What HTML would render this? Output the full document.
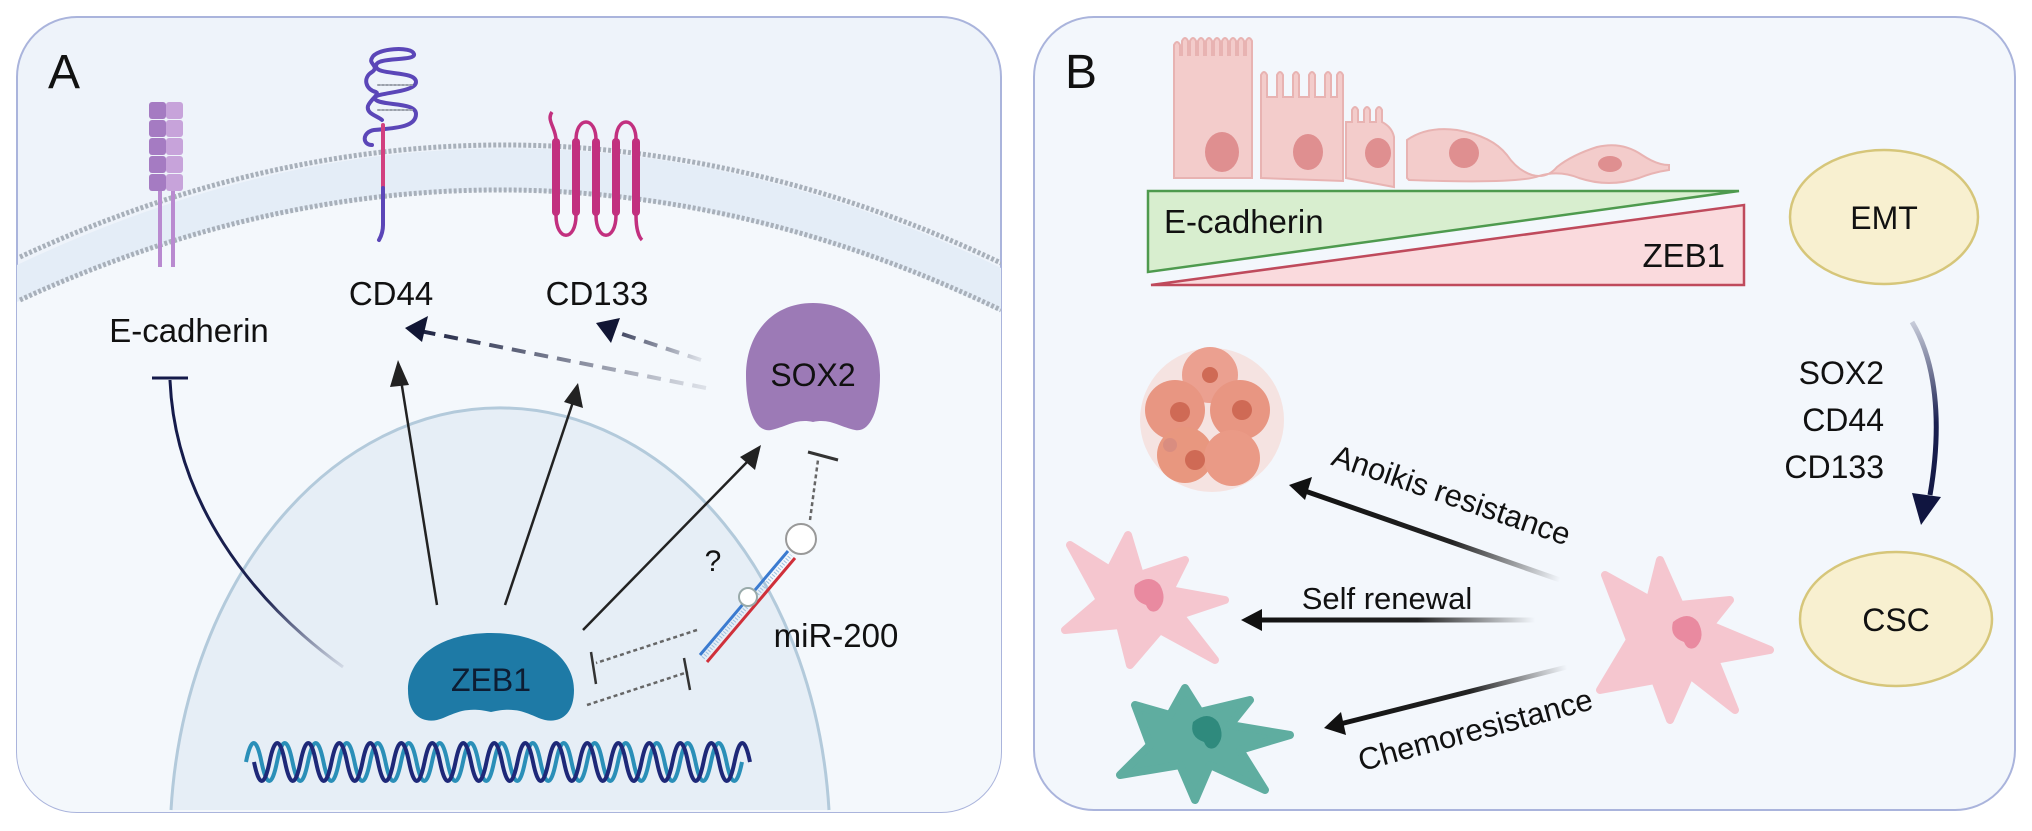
<!DOCTYPE html>
<html><head><meta charset="utf-8"><style>
html,body{margin:0;padding:0;background:#fff;width:2032px;height:831px;overflow:hidden;}
svg{display:block;}
text{font-family:"Liberation Sans",Arial,sans-serif;fill:#111;}
</style></head><body>
<svg width="2032" height="831" viewBox="0 0 2032 831" xmlns="http://www.w3.org/2000/svg">
<defs>
<linearGradient id="gInh" gradientUnits="userSpaceOnUse" x1="170" y1="380" x2="343" y2="667"><stop offset="0" stop-color="#141a4a"/><stop offset="0.7" stop-color="#1c2250"/><stop offset="1" stop-color="#1c2250" stop-opacity="0.1"/></linearGradient>
<linearGradient id="gD1" gradientUnits="userSpaceOnUse" x1="408" y1="328" x2="706" y2="388"><stop offset="0" stop-color="#141a3a"/><stop offset="1" stop-color="#141a3a" stop-opacity="0.1"/></linearGradient>
<linearGradient id="gD2" gradientUnits="userSpaceOnUse" x1="597" y1="325" x2="701" y2="360"><stop offset="0" stop-color="#141a3a"/><stop offset="1" stop-color="#141a3a" stop-opacity="0.1"/></linearGradient>
<linearGradient id="gA1" gradientUnits="userSpaceOnUse" x1="1289" y1="485" x2="1560" y2="580"><stop offset="0" stop-color="#111"/><stop offset="0.6" stop-color="#222"/><stop offset="1" stop-color="#222" stop-opacity="0"/></linearGradient>
<linearGradient id="gA2" gradientUnits="userSpaceOnUse" x1="1241" y1="620" x2="1535" y2="620"><stop offset="0" stop-color="#111"/><stop offset="0.6" stop-color="#222"/><stop offset="1" stop-color="#222" stop-opacity="0"/></linearGradient>
<linearGradient id="gA3" gradientUnits="userSpaceOnUse" x1="1324" y1="728" x2="1567" y2="667"><stop offset="0" stop-color="#111"/><stop offset="0.6" stop-color="#222"/><stop offset="1" stop-color="#222" stop-opacity="0"/></linearGradient>
<linearGradient id="gCurve" gradientUnits="userSpaceOnUse" x1="0" y1="322" x2="0" y2="523"><stop offset="0" stop-color="#1a2050" stop-opacity="0.2"/><stop offset="0.5" stop-color="#1a2050"/><stop offset="1" stop-color="#101540"/></linearGradient>
<clipPath id="clipA"><rect x="17" y="17" width="984" height="795" rx="60"/></clipPath>
</defs>

<!-- Panel A -->
<rect x="17" y="17" width="984" height="795" rx="60" fill="#eef3fa" stroke="#aab4dc" stroke-width="2"/>
<g clip-path="url(#clipA)">
  <path d="M17,800 L17,300 Q510,75 1001,310 L1001,812 L17,812 Z" fill="#f4f8fc"/>
  <path d="M17,265 Q510,30 1001,268 L1001,312 Q510,75 17,302 Z" fill="#e4edf7"/>
  <path d="M20,257 Q510,30 1001,263" fill="none" stroke="#a8b0ba" stroke-width="5" stroke-dasharray="3 2"/>
  <path d="M20,300 Q510,75 1001,310" fill="none" stroke="#a8b0ba" stroke-width="5" stroke-dasharray="3 2"/>
  <path d="M171,810 A330,436 0 0 1 829,810" fill="#e6eef6" stroke="#b3cadb" stroke-width="3"/>
</g>
<text x="48" y="88" font-size="48">A</text>

<!-- E-cadherin protein -->
<g>
  <line x1="160" y1="190" x2="160" y2="267" stroke="#b98ad0" stroke-width="4"/>
  <line x1="173" y1="190" x2="173" y2="267" stroke="#b98ad0" stroke-width="4"/>
  <g fill="#a57bc2"><rect x="149" y="102" width="17" height="17" rx="3"/><rect x="149" y="120" width="17" height="17" rx="3"/><rect x="149" y="138" width="17" height="17" rx="3"/><rect x="149" y="156" width="17" height="17" rx="3"/><rect x="149" y="174" width="17" height="17" rx="3"/></g>
  <g fill="#c7a3da"><rect x="166" y="102" width="17" height="17" rx="3"/><rect x="166" y="120" width="17" height="17" rx="3"/><rect x="166" y="138" width="17" height="17" rx="3"/><rect x="166" y="156" width="17" height="17" rx="3"/><rect x="166" y="174" width="17" height="17" rx="3"/></g>
</g>
<!-- CD44 -->
<g fill="none" stroke-linecap="round">
  <path d="M372,145 C362,145 362,132 374,130 C400,128 416,126 416,114 C416,102 384,106 376,100 C366,92 416,94 416,82 C416,70 376,76 376,66 C376,56 416,62 414,54 C412,46 376,48 372,58 C368,64 380,66 372,72 C362,78 366,90 376,92 C380,94 370,100 368,106 C366,114 378,116 382,120" stroke="#5b46b8" stroke-width="4"/>
  <line x1="383" y1="125" x2="383" y2="188" stroke="#d2407f" stroke-width="4"/>
  <path d="M383,188 L383,225 Q383,233 379,240" stroke="#5b46b8" stroke-width="4"/>
  <g stroke="#9aa0aa" stroke-width="2" stroke-dasharray="2 2"><line x1="378" y1="85" x2="412" y2="85"/><line x1="378" y1="110" x2="412" y2="110"/></g>
</g>
<!-- CD133 -->
<g fill="none" stroke="#c2307f">
  <path d="M552,112 C546,120 556,128 556,140 L556,215 C556,242 576,242 576,215 L576,140 C576,116 596,116 596,140 L596,215 C596,242 616,242 616,215 L616,140 C616,116 636,116 636,140 L636,215 C636,232 640,238 642,240" stroke-width="3.5"/>
  <g stroke-width="8" stroke-linecap="round"><line x1="556" y1="142" x2="556" y2="212"/><line x1="576" y1="142" x2="576" y2="212"/><line x1="596" y1="142" x2="596" y2="212"/><line x1="616" y1="142" x2="616" y2="212"/><line x1="636" y1="142" x2="636" y2="212"/></g>
</g>

<text x="189" y="342" font-size="33" text-anchor="middle">E-cadherin</text>
<text x="391" y="305" font-size="33" text-anchor="middle">CD44</text>
<text x="597" y="305" font-size="33" text-anchor="middle">CD133</text>

<!-- dashed arrows from SOX2 -->
<line x1="706" y1="388" x2="420" y2="331" stroke="url(#gD1)" stroke-width="4" stroke-dasharray="14 9"/>
<polygon points="405,328 428,316 422,342" fill="#111634"/>
<line x1="701" y1="360" x2="610" y2="330" stroke="url(#gD2)" stroke-width="4" stroke-dasharray="14 9"/>
<polygon points="596,323 620,318 611,343" fill="#111634"/>

<!-- inhibit curve -->
<path d="M343,667 C250,600 175,500 170,380" fill="none" stroke="url(#gInh)" stroke-width="3"/>
<line x1="152" y1="378" x2="188" y2="378" stroke="#141a4a" stroke-width="3"/>

<!-- arrows from ZEB1 -->
<g stroke="#222" stroke-width="2.5">
  <line x1="437" y1="605" x2="401" y2="380"/>
  <line x1="505" y1="605" x2="573" y2="402"/>
  <line x1="583" y1="630" x2="749" y2="460"/>
</g>
<g fill="#222">
  <polygon points="398,360 409,385 390,387"/>
  <polygon points="578,383 583,408 564,402"/>
  <polygon points="761,445 755,470 740,457"/>
</g>

<!-- SOX2 -->
<path d="M813,303 C855,303 880,335 880,375 C880,410 870,433 855,430 C840,427 830,418 813,422 C796,418 786,427 771,430 C756,433 746,410 746,375 C746,335 771,303 813,303 Z" fill="#9c7ab6"/>
<text x="813" y="386" font-size="32" text-anchor="middle">SOX2</text>

<!-- SOX2 inhibit from miR-200 -->
<line x1="810" y1="520" x2="818" y2="460" stroke="#666" stroke-width="2.5" stroke-dasharray="4 3"/>
<line x1="808" y1="452" x2="838" y2="460" stroke="#333" stroke-width="3"/>

<!-- ZEB1 -->
<path d="M491,633 C545,633 574,660 574,690 C574,715 560,723 545,720 C530,716 520,705 491,712 C462,705 452,716 437,720 C422,723 408,715 408,690 C408,660 437,633 491,633 Z" fill="#1e7aa6"/>
<text x="491" y="691" font-size="32" text-anchor="middle" style="fill:#0d1d33">ZEB1</text>

<!-- dotted mutual inhibition -->
<g stroke="#666" stroke-width="2.5" stroke-dasharray="4 3" fill="none">
  <line x1="697" y1="630" x2="596" y2="663"/>
  <line x1="587" y1="705" x2="688" y2="672"/>
</g>
<g stroke="#333" stroke-width="2.5">
  <line x1="591" y1="652" x2="596" y2="684"/>
  <line x1="684" y1="658" x2="690" y2="690"/>
</g>

<!-- miR-200 -->
<g>
  <line x1="700" y1="655" x2="788" y2="551" stroke="#3b7bd0" stroke-width="3"/>
  <line x1="707" y1="662" x2="795" y2="558" stroke="#d0303a" stroke-width="3"/>
  <line x1="703" y1="658" x2="791" y2="555" stroke="#9cc0e0" stroke-width="4" stroke-dasharray="1 2"/>
  <circle cx="748" cy="597" r="9" fill="#fff" stroke="#9aa" stroke-width="2"/>
  <circle cx="801" cy="539" r="15" fill="#fff" stroke="#999" stroke-width="2"/>
</g>
<text x="713" y="571" font-size="30" text-anchor="middle">?</text>
<text x="836" y="647" font-size="33" text-anchor="middle">miR-200</text>

<!-- DNA -->
<path d="M246,762 q7.75,-38 15.5,0 q7.75,38 15.5,0 q7.75,-38 15.5,0 q7.75,38 15.5,0 q7.75,-38 15.5,0 q7.75,38 15.5,0 q7.75,-38 15.5,0 q7.75,38 15.5,0 q7.75,-38 15.5,0 q7.75,38 15.5,0 q7.75,-38 15.5,0 q7.75,38 15.5,0 q7.75,-38 15.5,0 q7.75,38 15.5,0 q7.75,-38 15.5,0 q7.75,38 15.5,0 q7.75,-38 15.5,0 q7.75,38 15.5,0 q7.75,-38 15.5,0 q7.75,38 15.5,0 q7.75,-38 15.5,0 q7.75,38 15.5,0 q7.75,-38 15.5,0 q7.75,38 15.5,0 q7.75,-38 15.5,0 q7.75,38 15.5,0 q7.75,-38 15.5,0 q7.75,38 15.5,0 q7.75,-38 15.5,0 q7.75,38 15.5,0 q7.75,-38 15.5,0 q7.75,38 15.5,0" fill="none" stroke="#2a8fb8" stroke-width="4"/>
<path d="M254,762 q7.75,38 15.5,0 q7.75,-38 15.5,0 q7.75,38 15.5,0 q7.75,-38 15.5,0 q7.75,38 15.5,0 q7.75,-38 15.5,0 q7.75,38 15.5,0 q7.75,-38 15.5,0 q7.75,38 15.5,0 q7.75,-38 15.5,0 q7.75,38 15.5,0 q7.75,-38 15.5,0 q7.75,38 15.5,0 q7.75,-38 15.5,0 q7.75,38 15.5,0 q7.75,-38 15.5,0 q7.75,38 15.5,0 q7.75,-38 15.5,0 q7.75,38 15.5,0 q7.75,-38 15.5,0 q7.75,38 15.5,0 q7.75,-38 15.5,0 q7.75,38 15.5,0 q7.75,-38 15.5,0 q7.75,38 15.5,0 q7.75,-38 15.5,0 q7.75,38 15.5,0 q7.75,-38 15.5,0 q7.75,38 15.5,0 q7.75,-38 15.5,0 q7.75,38 15.5,0 q7.75,-38 15.5,0" fill="none" stroke="#1e2878" stroke-width="4"/>

<!-- Panel B -->
<rect x="1034" y="17" width="981" height="793" rx="60" fill="#f3f7fc" stroke="#aab4dc" stroke-width="2"/>
<text x="1065" y="88" font-size="48">B</text>

<!-- cells -->
<g fill="#f3cccb" stroke="#e8b3b2" stroke-width="2">
  <path d="M1174,178 L1174,45 q3,-6 6,0 l0,10 l2,0 l0,-14 q3,-6 6,0 l0,14 l2,0 l0,-14 q3,-6 6,0 l0,14 l2,0 l0,-14 q3,-6 6,0 l0,14 l2,0 l0,-14 q3,-6 6,0 l0,14 l2,0 l0,-14 q3,-6 6,0 l0,14 l2,0 l0,-14 q3,-6 6,0 l0,14 l2,0 l0,-14 q3,-6 6,0 l0,14 l2,0 l0,-14 q3,-6 6,0 l0,14 l2,0 l0,-14 q3,-6 6,0 l0,137 Z"/>
  <path d="M1261,178 L1261,75 q3,-6 6,0 l0,22 l10,0 l0,-22 q3,-6 6,0 l0,22 l10,0 l0,-22 q3,-6 6,0 l0,22 l10,0 l0,-22 q3,-6 6,0 l0,22 l10,0 l0,-22 q3,-6 6,0 l0,22 l6,0 l0,-22 q3,-6 6,0 l0,106 Z"/>
  <path d="M1346,178 L1346,122 l6,0 l0,-12 q3,-6 6,0 l0,12 l6,0 l0,-12 q3,-6 6,0 l0,12 l6,0 l0,-12 q3,-6 6,0 l0,12 q10,5 12,15 l0,50 Z"/>
  <path d="M1407,178 L1407,140 q20,-14 50,-10 q35,6 50,25 q10,15 25,20 q15,4 25,-8 q15,-12 40,-20 q25,-6 45,8 q15,10 27,10 l0,5 q-15,2 -30,8 q-30,10 -60,0 q-20,-8 -40,-2 q-20,8 -130,4 Z"/>
</g>
<g fill="#df8f90">
  <ellipse cx="1222" cy="152" rx="17" ry="20"/>
  <ellipse cx="1308" cy="152" rx="15" ry="18"/>
  <ellipse cx="1378" cy="153" rx="13" ry="15"/>
  <ellipse cx="1464" cy="153" rx="15" ry="15"/>
  <ellipse cx="1610" cy="164" rx="12" ry="8"/>
</g>

<!-- gradient triangles -->
<polygon points="1148,191 1739,191 1148,272" fill="#d8eecf" stroke="#4e9a4e" stroke-width="2.5"/>
<polygon points="1151,285 1744,205 1744,285" fill="#fadadd" stroke="#bf4a5c" stroke-width="2.5"/>
<text x="1164" y="233" font-size="33">E-cadherin</text>
<text x="1725" y="267" font-size="33" text-anchor="end">ZEB1</text>

<!-- EMT / CSC -->
<ellipse cx="1884" cy="217" rx="94" ry="67" fill="#f8f0d0" stroke="#d6c67a" stroke-width="2.5"/>
<text x="1884" y="229" font-size="32" text-anchor="middle">EMT</text>
<ellipse cx="1896" cy="619" rx="96" ry="67" fill="#f8f0d0" stroke="#d6c67a" stroke-width="2.5"/>
<text x="1896" y="631" font-size="32" text-anchor="middle">CSC</text>

<text x="1884" y="384" font-size="32" text-anchor="end">SOX2</text>
<text x="1884" y="431" font-size="32" text-anchor="end">CD44</text>
<text x="1884" y="478" font-size="32" text-anchor="end">CD133</text>
<path d="M1912,322 C1935,360 1943,420 1930,495" fill="none" stroke="url(#gCurve)" stroke-width="5"/>
<polygon points="1921,525 1912,493 1941,497" fill="#101540"/>

<!-- tumor cluster -->
<g>
  <circle cx="1212" cy="420" r="72" fill="#f6d6cf" opacity="0.6"/>
  <circle cx="1210" cy="375" r="28" fill="#eba090"/>
  <circle cx="1175" cy="410" r="30" fill="#e89682"/>
  <circle cx="1240" cy="410" r="30" fill="#e89682"/>
  <circle cx="1185" cy="455" r="28" fill="#e8977f"/>
  <circle cx="1232" cy="458" r="28" fill="#ea9a86"/>
  <g fill="#cf6a55"><circle cx="1210" cy="375" r="8"/><circle cx="1180" cy="412" r="10"/><circle cx="1242" cy="410" r="10"/><circle cx="1195" cy="460" r="10"/><circle cx="1170" cy="445" r="7" fill="#d98d80"/></g>
</g>

<!-- arrows panel B -->
<line x1="1560" y1="580" x2="1305" y2="491" stroke="url(#gA1)" stroke-width="5"/>
<polygon points="1289,485 1312,477 1305,500" fill="#111"/>
<line x1="1535" y1="620" x2="1258" y2="620" stroke="url(#gA2)" stroke-width="5"/>
<polygon points="1241,620 1262,609 1262,631" fill="#111"/>
<line x1="1567" y1="667" x2="1340" y2="724" stroke="url(#gA3)" stroke-width="5"/>
<polygon points="1324,728 1341,712 1346,735" fill="#111"/>

<text transform="translate(1448,505) rotate(19)" font-size="31" text-anchor="middle">Anoikis resistance</text>
<text x="1387" y="609" font-size="31" text-anchor="middle">Self renewal</text>
<text transform="translate(1478,740) rotate(-15)" font-size="31" text-anchor="middle">Chemoresistance</text>

<!-- spiky cells -->
<polygon points="1070,545 1110,570 1128,535 1140,575 1185,560 1170,590 1225,600 1180,615 1215,660 1160,630 1130,665 1120,625 1065,630 1100,600" fill="#f5c6cf" stroke="#f5c6cf" stroke-width="8" stroke-linejoin="round"/>
<path d="M1135,585 q15,-12 25,0 q8,15 -2,25 q-8,5 -12,-5 q-15,-5 -11,-20 Z" fill="#e98aa0"/>
<polygon points="1605,575 1650,600 1660,560 1680,605 1730,600 1710,625 1770,650 1715,660 1735,710 1690,675 1670,720 1655,680 1600,690 1630,640" fill="#f5c6cf" stroke="#f5c6cf" stroke-width="8" stroke-linejoin="round"/>
<path d="M1673,622 q15,-12 25,0 q8,15 -2,25 q-8,5 -12,-5 q-15,-5 -11,-20 Z" fill="#e98aa0"/>
<polygon points="1135,705 1170,715 1185,688 1200,712 1250,700 1230,725 1290,735 1240,750 1265,790 1210,765 1195,800 1180,765 1120,775 1150,745" fill="#5fada0" stroke="#5fada0" stroke-width="8" stroke-linejoin="round"/>
<path d="M1193,722 q15,-12 25,0 q8,15 -2,25 q-8,5 -12,-5 q-15,-5 -11,-20 Z" fill="#2f8a7d"/>
</svg>
</body></html>
